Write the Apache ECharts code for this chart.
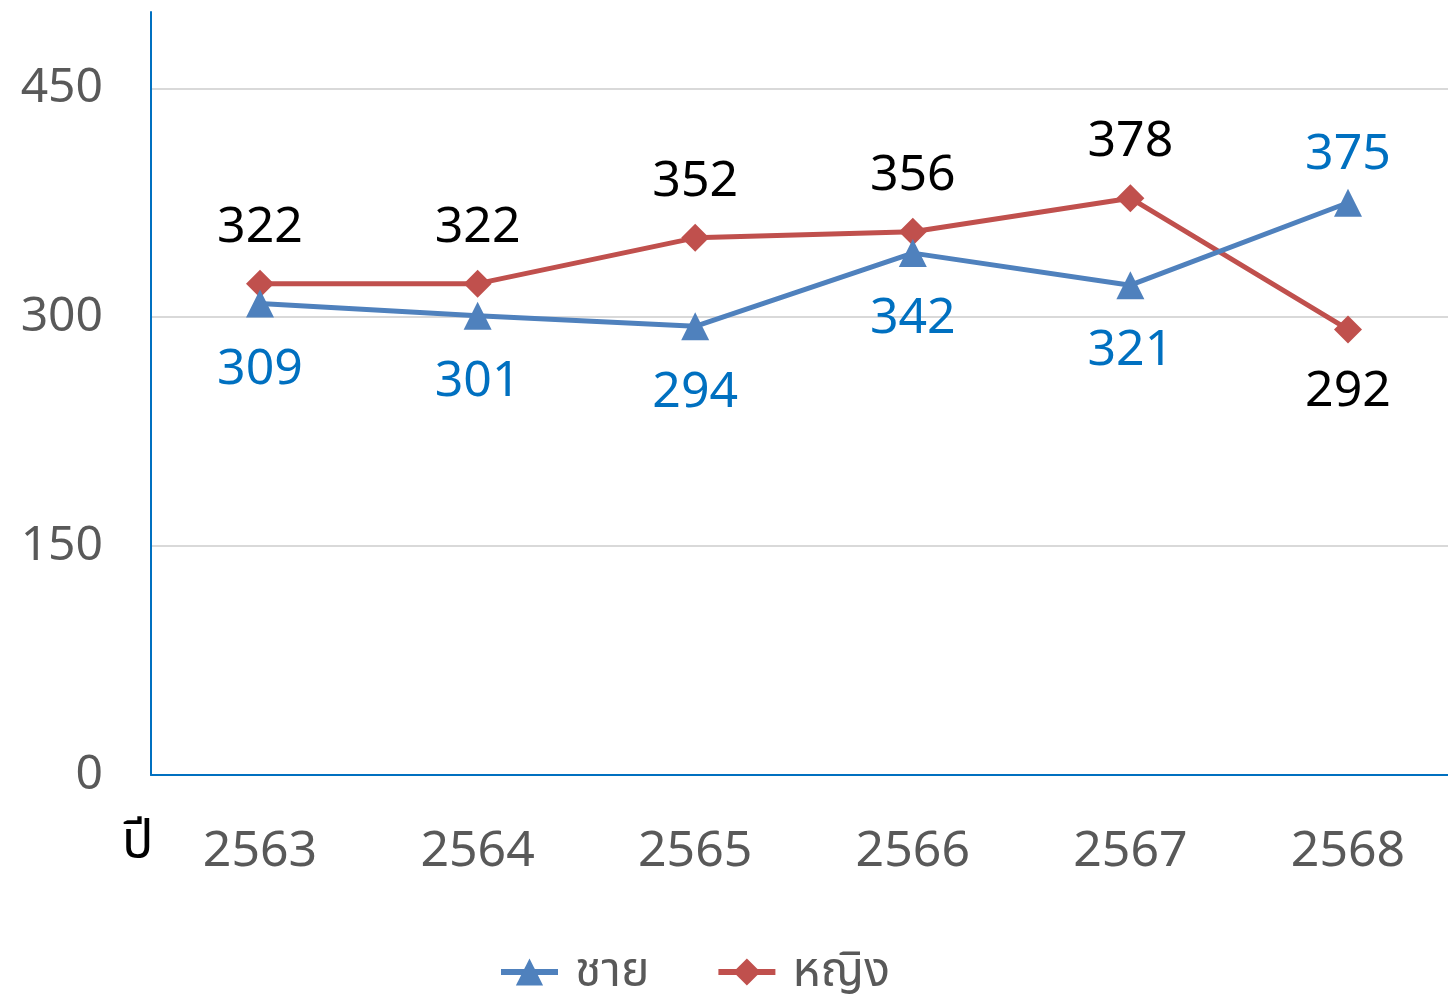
<!DOCTYPE html>
<html><head><meta charset="utf-8">
<script src="https://cdn.jsdelivr.net/npm/echarts@6/dist/echarts.min.js"></script>
<style>html,body{margin:0;padding:0;background:#fff}#c{width:1448px;height:1003px}</style>
</head><body><div id="c"></div>
<script>
const categories = ['2563','2564','2565','2566','2567','2568'];
const maleValues = [309, 301, 294, 342, 321, 375];
const femaleValues = [322, 322, 352, 356, 378, 292];
const yTicks = [0, 150, 300, 450];
const seriesNames = ['ชาย', 'หญิง'];
const axisName = 'ปี';

const FONT = '"Noto Sans", "Noto Sans Thai", sans-serif';
const chart = echarts.init(document.getElementById('c'), null, {renderer: 'canvas'});

function mkData(vals, flipIdx, flipLabel) {
  return vals.map((v, i) => i === flipIdx ? {value: v, label: flipLabel} : v);
}

chart.setOption({
  animation: false,
  textStyle: {fontFamily: FONT},
  grid: [
    {left: 151, top: 12, right: 0, height: 763},
    {left: 260, top: 12, width: 1088, height: 763}
  ],
  legend: {
    bottom: 2, left: 493,
    itemWidth: 57, itemHeight: 34, itemGap: 66,
    lineStyle: {width: 6},
    textStyle: {fontSize: 48, color: '#595959', fontFamily: FONT, padding: [0, 0, 0, 12]},
    data: seriesNames
  },
  xAxis: [
    {
      gridIndex: 0, type: 'value', min: 0, max: 1,
      axisLine: {show: true, lineStyle: {color: '#0070C0', width: 2}},
      axisTick: {show: false}, axisLabel: {show: false}, splitLine: {show: false}
    },
    {
      gridIndex: 1, type: 'category', data: categories, boundaryGap: false,
      axisLine: {show: false},
      axisTick: {show: false},
      axisLabel: {fontSize: 50, color: '#595959', margin: 52, fontFamily: FONT},
      splitLine: {show: false}
    }
  ],
  yAxis: [
    {
      gridIndex: 0, type: 'value', min: 0, max: 500, interval: 150,
      axisLine: {show: true, lineStyle: {color: '#0070C0', width: 2}},
      axisTick: {show: false},
      axisLabel: {fontSize: 48, color: '#595959', margin: 48, showMaxLabel: false, fontFamily: FONT},
      splitLine: {show: true, showMaxLine: false, showMinLine: false, lineStyle: {color: '#D9D9D9', width: 2}}
    },
    {
      gridIndex: 1, type: 'value', min: 0, max: 500, interval: 150,
      axisLine: {show: false}, axisTick: {show: false}, axisLabel: {show: false}, splitLine: {show: false}
    }
  ],
  graphic: [{
    type: 'text', left: 122, top: 816,
    style: {text: axisName, fontSize: 52, fill: '#000', fontFamily: FONT}
  }],
  series: [
    {
      name: seriesNames[1], type: 'line', z: 2, xAxisIndex: 1, yAxisIndex: 1,
      data: mkData(femaleValues, 5, {position: 'bottom', distance: 23}),
      symbol: 'diamond', symbolSize: 28,
      lineStyle: {color: '#C0504D', width: 5},
      itemStyle: {color: '#C0504D'},
      label: {show: true, position: 'top', distance: 17, fontSize: 50, color: '#000', fontFamily: FONT}
    },
    {
      name: seriesNames[0], type: 'line', z: 3, xAxisIndex: 1, yAxisIndex: 1,
      data: mkData(maleValues, 5, {position: 'top', distance: 9}),
      symbol: 'triangle', symbolSize: 28,
      lineStyle: {color: '#4F81BD', width: 5},
      itemStyle: {color: '#4F81BD'},
      label: {show: true, position: 'bottom', distance: 27, fontSize: 50, color: '#0070C0', fontFamily: FONT}
    }
  ]
});
</script></body></html>
